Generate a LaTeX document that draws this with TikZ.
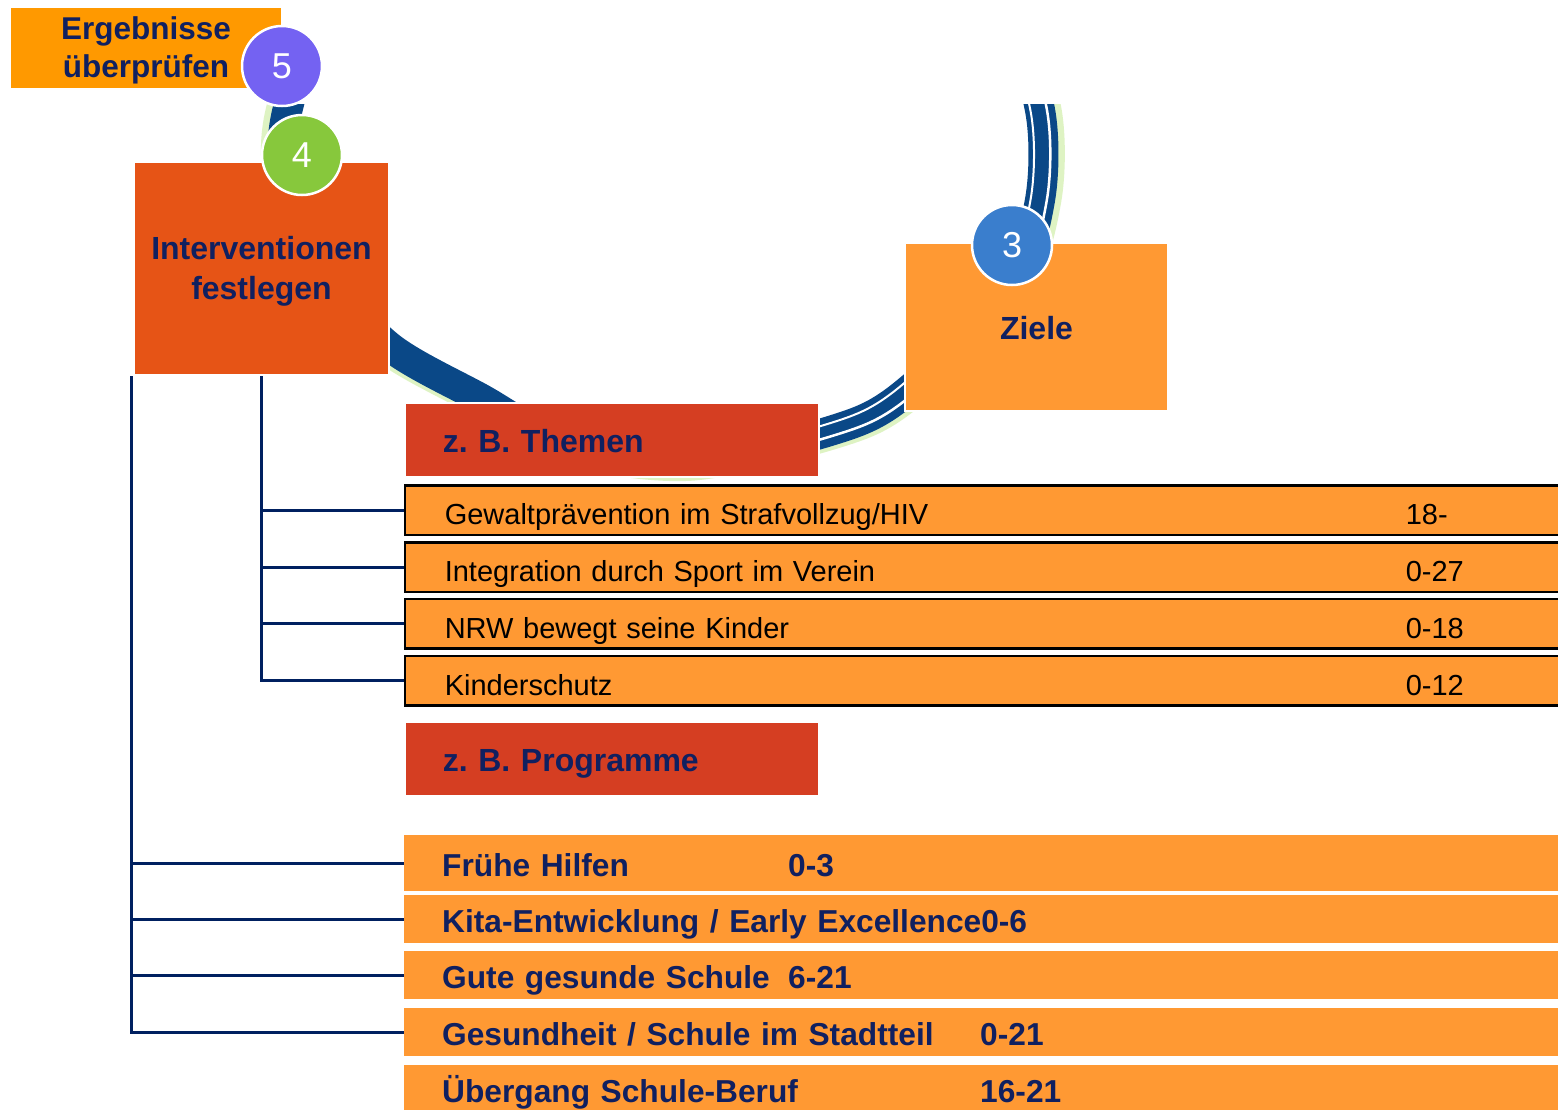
\documentclass[tikz,border=0pt]{standalone}
\usepackage{fontspec}
\setmainfont{Liberation Sans}
\definecolor{navy}{RGB}{16,32,96}
\definecolor{lineblue}{RGB}{0,32,96}
\definecolor{ergor}{RGB}{255,153,0}
\definecolor{intor}{RGB}{230,84,22}
\definecolor{rowor}{RGB}{255,153,51}
\definecolor{hdred}{RGB}{213,62,34}
\definecolor{cfive}{RGB}{116,98,242}
\definecolor{cfour}{RGB}{135,200,60}
\definecolor{cthree}{RGB}{58,126,205}
\definecolor{ringblue}{RGB}{10,72,135}
\definecolor{ringgreen}{RGB}{222,243,195}
\tikzset{
 ringp/.style={insert path={plot[smooth cycle] coordinates {(660,-130) (900,-85) (1005,15) (1040,110) (1040,200) (1008,292) (900,397) (830,431) (690,462) (570,447) (482,399) (390,347) (322,272) (286,185) (287,112) (330,0) (450,-90)}}},
 bigbox/.style={rectangle, anchor=north west, inner sep=0pt, draw=white, line width=2pt},
 boxtext/.style={font=\bfseries\fontsize{32}{40}\selectfont, text=navy, align=center, inner sep=0pt},
 hdbox/.style={rectangle, anchor=north west, fill=hdred, draw=white, line width=1.5pt, minimum width=414pt, minimum height=74pt, inner xsep=38pt, inner ysep=0pt, text width=338pt, align=left, font=\bfseries\fontsize{32}{38}\selectfont, text=navy, text height=25pt, text depth=0pt},
 throw/.style={rectangle, anchor=west, fill=rowor, draw=black, line width=2.5pt, minimum height=49.5pt, inner xsep=40pt, inner ysep=0pt, text width=1300pt, align=left, font=\fontsize{29}{35}\selectfont, text=black, text height=29pt, text depth=0pt},
 prrow/.style={rectangle, anchor=north west, fill=rowor, inner xsep=38pt, inner ysep=0pt, text width=1300pt, align=left, font=\bfseries\fontsize{31.7}{38}\selectfont, text=navy, text height=26pt, text depth=0pt},
 numcirc/.style={circle, draw=white, line width=2.5pt, minimum size=80pt, inner sep=0pt, text=white, font=\fontsize{36}{36}\selectfont, text height=25.8pt, text depth=0pt},
 conn/.style={draw=lineblue, line width=3pt},
}
\begin{document}
\frenchspacing
\begin{tikzpicture}[x=1pt,y=-1pt]
\clip (0,0) rectangle (1558,1109);
\fill[white] (0,0) rectangle (1558,1109);
% ring
\begin{scope}
\clip (0,104) rectangle (1558,1109);
\begin{scope}[scale around={1.03:(665,170)}]
\draw[ringgreen, line width=20pt, ringp];
\end{scope}
\draw[ringblue, line width=30pt, ringp];
\begin{scope}
\clip (780,104) rectangle (1558,1109);
\begin{scope}[scale around={1.018:(665,170)}]
\draw[white, line width=2.5pt, ringp];
\end{scope}
\begin{scope}[scale around={0.975:(665,170)}]
\draw[white, line width=2pt, ringp];
\end{scope}
\end{scope}
\end{scope}
% boxes
\node[bigbox, fill=ergor, draw=none, minimum width=270pt, minimum height=80pt] (erg) at (10,7) {};
\node[boxtext, font=\bfseries\fontsize{31.5}{38}\selectfont, yshift=-2.5pt] (ergtext) at (erg.center) {Ergebnisse\\überprüfen};
\node[bigbox, fill=intor, minimum width=255pt, minimum height=213pt] (interv) at (133,161) {};
\node[boxtext, yshift=-3pt] (intervtext) at (interv.center) {Interventionen\\festlegen};
\node[bigbox, fill=rowor, minimum width=263pt, minimum height=168pt] (ziele) at (904,242) {};
\node[boxtext, yshift=-1pt] (zieletext) at (ziele.center) {Ziele};
\node[hdbox] (themen) at (404,402) {z. B. Themen};
\node[hdbox] (progr) at (404,721) {z. B. Programme};
% theme rows
\node[throw] (t1) at (403.5,510) {\makebox[961pt][l]{Gewaltprävention im Strafvollzug/HIV}18-};
\node[throw] (t2) at (403.5,567) {\makebox[961pt][l]{Integration durch Sport im Verein}0-27};
\node[throw] (t3) at (403.5,623.5) {\makebox[961pt][l]{NRW bewegt seine Kinder}0-18};
\node[throw] (t4) at (403.5,680.5) {\makebox[961pt][l]{Kinderschutz}0-12};
% programme rows
\node[prrow, minimum height=56pt] (p1) at (404,835) {\makebox[346pt][l]{Frühe Hilfen}0-3};
\node[prrow, minimum height=48pt] (p2) at (404,895) {Kita-Entwicklung / Early Excellence0-6};
\node[prrow, minimum height=48pt] (p3) at (404,951) {\makebox[346pt][l]{Gute gesunde Schule}6-21};
\node[prrow, minimum height=48pt] (p4) at (404,1008) {\makebox[538pt][l]{Gesundheit / Schule im Stadtteil}0-21};
\node[prrow, minimum height=48pt] (p5) at (404,1065) {\makebox[538pt][l]{Übergang Schule-Beruf}16-21};
% connectors
\foreach \t in {t1,t2,t3,t4} \draw[conn] (interv.south) |- (\t.west);
\foreach \p in {p1,p2,p3,p4} \draw[conn] ([xshift=-2pt]interv.south west) |- (\p.west);
% numbered circles
\node[numcirc, fill=cfive] (n5) at (282,66) {5};
\node[numcirc, fill=cfour] (n4) at (302,155) {4};
\node[numcirc, fill=cthree] (n3) at (1012,245) {3};
\end{tikzpicture}
\end{document}
